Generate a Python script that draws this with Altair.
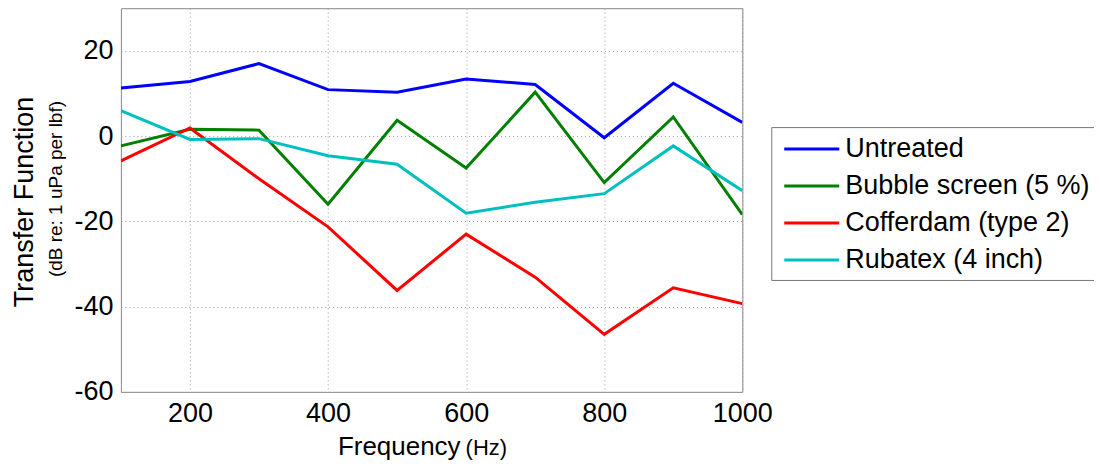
import altair as alt
import pandas as pd

freq = [100, 200, 300, 400, 500, 600, 700, 800, 900, 1000]
untreated = [11.3, 12.8, 17.0, 10.9, 10.3, 13.4, 12.1, -0.4, 12.4, 3.2]
bubble = [-2.3, 1.6, 1.4, -16.0, 3.7, -7.5, 10.3, -10.9, 4.5, -18.4]
cofferdam = [-5.8, 1.9, -10.0, -21.3, -36.2, -23.0, -33.1, -46.5, -35.6, -39.3]
rubatex = [6.0, -0.8, -0.6, -4.6, -6.6, -18.1, -15.5, -13.5, -2.3, -12.8]

series_names = ["Untreated", "Bubble screen (5 %)", "Cofferdam (type 2)", "Rubatex (4 inch)"]
series_colors = ["#0000ff", "#008000", "#ff0000", "#00bfbf"]
x_ticks = [200, 400, 600, 800, 1000]
y_ticks = [-60, -40, -20, 0, 20]

rows = []
for name, vals in zip(series_names, [untreated, bubble, cofferdam, rubatex]):
    for f, v in zip(freq, vals):
        rows.append({"Frequency": f, "Value": v, "Series": name})
df = pd.DataFrame(rows)

FONT = "Liberation Sans"

lines = alt.Chart(df).mark_line(strokeWidth=3, clip=True).encode(
    x=alt.X("Frequency:Q",
            scale=alt.Scale(domain=[100, 1000], nice=False, zero=False),
            axis=alt.Axis(values=x_ticks, title=None, grid=True, gridDash=[1, 3],
                          gridColor="#9a9a9a", domain=False, tickSize=0,
                          labelPadding=9, labelFontSize=27, labelFont=FONT,
                          labelFlush=False, labelOverlap=False,
                          labelColor="#000", labelExpr="'' + datum.value")),
    y=alt.Y("Value:Q",
            scale=alt.Scale(domain=[-60, 30], nice=False, zero=False),
            axis=alt.Axis(values=y_ticks, title=None, grid=True, gridDash=[1, 3],
                          gridColor="#9a9a9a", domain=False, tickSize=0,
                          labelPadding=8, labelFontSize=27, labelFont=FONT,
                          labelFlush=False, labelOverlap=False,
                          labelColor="#000", labelExpr="'' + datum.value")),
    color=alt.Color("Series:N",
                    scale=alt.Scale(domain=series_names, range=series_colors),
                    sort=series_names,
                    legend=alt.Legend(title=None, orient="none", legendX=651, legendY=119,
                                      symbolType="M-0.67,0H3.41", symbolSize=729,
                                      symbolStrokeWidth=3, labelFontSize=27,
                                      labelFont=FONT, labelLimit=400, labelOffset=37,
                                      rowPadding=9, padding=7, strokeColor="#777",
                                      fillColor="#ffffff", labelColor="#000")),
)

title_df = pd.DataFrame({"t": ["Transfer Function"]})
ytitle = alt.Chart(title_df).mark_text(angle=270, fontSize=27, font=FONT, align="center",
                                       baseline="middle", color="#000").encode(
    text="t:N", x=alt.value(-96), y=alt.value(194))
sub_df = pd.DataFrame({"t": ["(dB re: 1 uPa per lbf)"]})
ysub = alt.Chart(sub_df).mark_text(angle=270, fontSize=19, font=FONT, align="center",
                                   baseline="middle", color="#000").encode(
    text="t:N", x=alt.value(-65), y=alt.value(181))
xt_df = pd.DataFrame({"t": ["Frequency"]})
xtitle = alt.Chart(xt_df).mark_text(fontSize=26, font=FONT, align="right",
                                    baseline="alphabetic", color="#000").encode(
    text="t:N", x=alt.value(340), y=alt.value(447))
xu_df = pd.DataFrame({"t": ["(Hz)"]})
xunit = alt.Chart(xu_df).mark_text(fontSize=22, font=FONT, align="left",
                                   baseline="alphabetic", color="#000").encode(
    text="t:N", x=alt.value(345), y=alt.value(447))

chart = alt.layer(lines, ytitle, ysub, xtitle, xunit).properties(
    width=622, height=384,
    autosize=alt.AutoSizeParams(type="none"),
    padding={"left": 113, "top": 0, "right": 352, "bottom": 70},
    background="#ffffff",
).configure_view(stroke="#888888", strokeWidth=1)

chart.save("out.html", embed_options={"renderer": "svg", "actions": False})
